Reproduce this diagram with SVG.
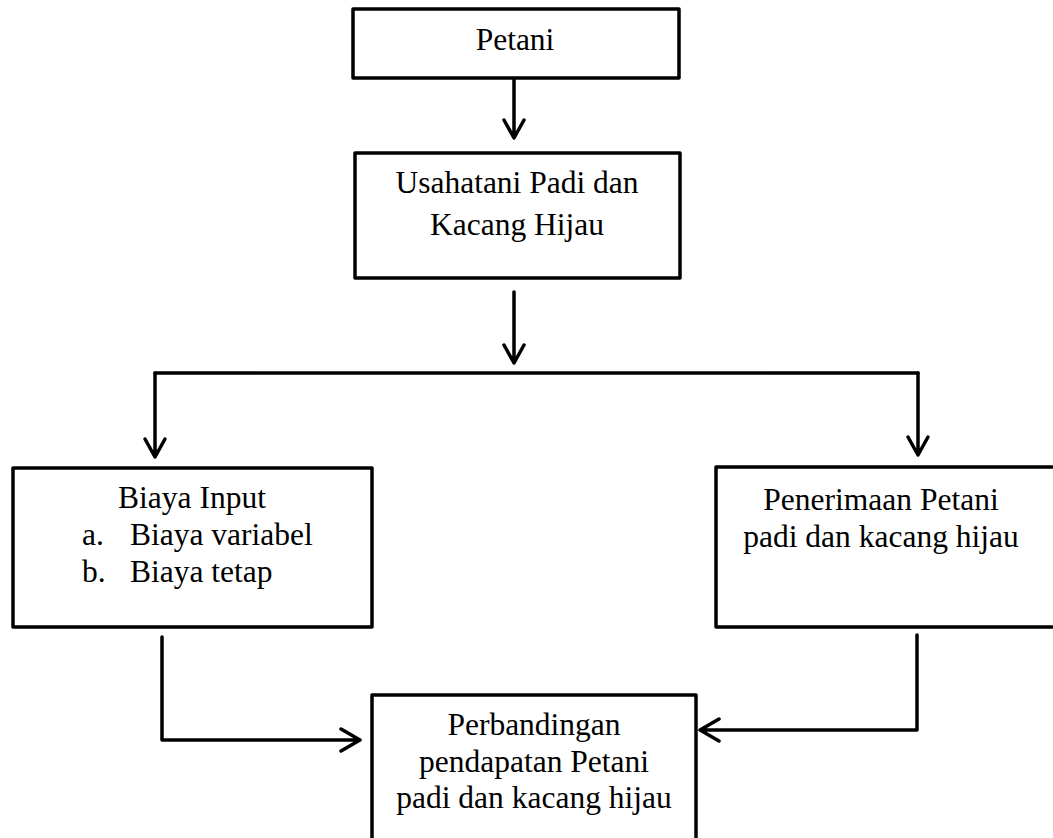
<svg xmlns="http://www.w3.org/2000/svg" width="1053" height="838" viewBox="0 0 1053 838">
<style>
.box{fill:#fff;stroke:#000;stroke-width:3.5;stroke-linejoin:round}
.t{font-family:"Liberation Serif","Times New Roman",serif;font-size:31.5px;fill:#000}
.c{text-anchor:middle}
.ln{fill:none;stroke:#000;stroke-width:3.5;stroke-linejoin:round;stroke-linecap:round}
</style>
<rect width="1053" height="838" fill="#fff"/>
<g id="connectors">
<path class="ln" d="M514 80 V137 M504 120 L514 138 L524 120"/>
<path class="ln" d="M514 292 V362 M504 345 L514 363 L524 345"/>
<path class="ln" d="M155 373 H918"/>
<path class="ln" d="M155 373 V456 M145 439 L155 457 L165 439"/>
<path class="ln" d="M918 373 V454 M908 437 L918 455 L928 437"/>
<path class="ln" d="M162 637 V740 H359 M341 729 L360 740 L341 751"/>
<path class="ln" d="M917 635 V730 H701 M719 719 L700 730 L719 741"/>
</g>
<g id="petani">
<rect class="box" x="353" y="9" width="326" height="69"/>
<text class="t c" x="515" y="50">Petani</text>
</g>
<g id="usahatani">
<rect class="box" x="355" y="153" width="325" height="125"/>
<text class="t c" x="517" y="193">Usahatani Padi dan</text>
<text class="t c" x="517" y="235">Kacang Hijau</text>
</g>
<g id="biaya">
<rect class="box" x="13" y="468" width="359" height="159"/>
<text class="t c" x="192" y="508">Biaya Input</text>
<text class="t" x="82" y="545">a.</text>
<text class="t" x="130" y="545">Biaya variabel</text>
<text class="t" x="82" y="582">b.</text>
<text class="t" x="130" y="582">Biaya tetap</text>
</g>
<g id="penerimaan">
<rect class="box" x="716" y="467" width="360" height="160"/>
<text class="t c" x="881" y="510">Penerimaan Petani</text>
<text class="t c" x="881" y="547">padi dan kacang hijau</text>
</g>
<g id="perbandingan">
<rect class="box" x="372" y="695" width="324" height="160"/>
<text class="t c" x="534" y="735">Perbandingan</text>
<text class="t c" x="534" y="772">pendapatan Petani</text>
<text class="t c" x="534" y="808">padi dan kacang hijau</text>
</g>
</svg>
